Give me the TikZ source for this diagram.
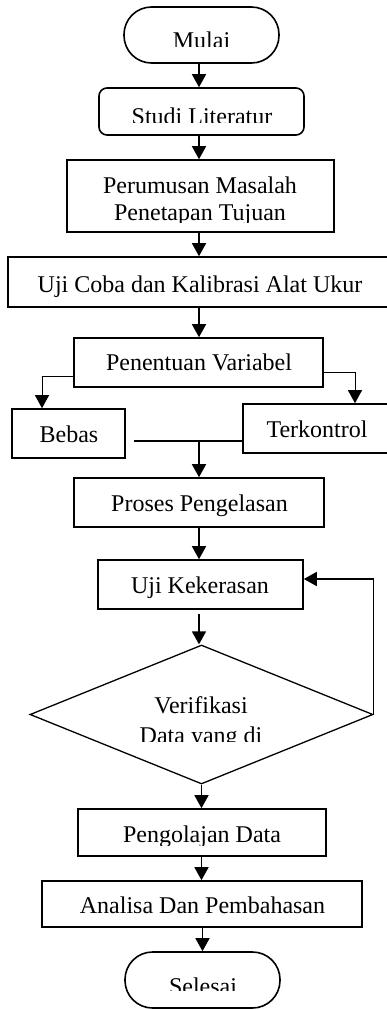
\documentclass[tikz,border=0pt]{standalone}
\usepackage{fontspec}
\setmainfont{Liberation Serif}
\usetikzlibrary{arrows.meta,shapes.geometric,fit}
\begin{document}
\begin{tikzpicture}[x=1pt,y=-1pt,
  box/.style={draw,line width=1.6pt,inner sep=0pt},
  term/.style={box,rounded corners=27.5pt},
  rbox/.style={box,rounded corners=8pt},
  dec/.style={draw,diamond,line width=1.3pt,inner sep=0pt,minimum width=343pt,minimum height=139pt},
  txt/.style={font=\fontsize{24}{27}\selectfont,inner sep=0pt,anchor=base},
  arr/.style={line width=1.6pt,-{Triangle[width=14pt,length=13pt]}},
  tarr/.style={line width=1pt,-{Triangle[width=14pt,length=13pt]}},
  conn/.style={line width=1.6pt}]
\useasboundingbox (0,0) rectangle (386,1010);
\coordinate (axis) at (199,0);
% shapes
\node[term,fit={(124,7)(279,63)}] (mulai) {};
\node[rbox,fit={(99,88)(304,135)}] (studi) {};
\node[box,fit={(67,160)(334,232)}] (rumus) {};
\node[box,fit={(8,257)(392,307)}] (ujicoba) {};
\node[box,fit={(74,338)(323,387)}] (tentu) {};
\node[box,fit={(12,409)(125,458)}] (bebas) {};
\node[box,fit={(243,404)(391,453)}] (kontrol) {};
\node[box,fit={(74,478)(324,527)}] (proses) {};
\node[box,fit={(98,560)(303,609)}] (keras) {};
\node[dec] (verif) at (201.5,714.5) {};
\node[box,fit={(78,809)(326,856)}] (olah) {};
\node[box,fit={(42,881)(362,927)}] (analisa) {};
\node[term,fit={(125,952)(280,1008)}] (selesai) {};
% texts
\begin{scope}
\clip (0,0) rectangle (386,46);
\node[txt] (tmulai) at (201.5,48) {Mulai};
\end{scope}
\begin{scope}
\clip (0,90) rectangle (386,122);
\node[txt] (tstudi) at (202,124.5) {Studi Literatur};
\end{scope}
\node[txt] (trumus1) at (200,193) {Perumusan Masalah};
\begin{scope}
\clip (0,195) rectangle (386,222);
\node[txt] (trumus2) at (200,220) {Penetapan Tujuan};
\end{scope}
\node[txt] (tujicoba) at (200,292) {Uji Coba dan Kalibrasi Alat Ukur};
\node[txt] (ttentu) at (199,370) {Penentuan Variabel};
\node[txt] (tbebas) at (69,442) {Bebas};
\node[txt] (tkontrol) at (317,437) {Terkontrol};
\node[txt] (tproses) at (199.5,511) {Proses Pengelasan};
\node[txt] (tkeras) at (200,593) {Uji Kekerasan};
\node[txt] (tverif1) at (201,713) {Verifikasi};
\begin{scope}
\clip (0,716) rectangle (386,741.5);
\node[txt] (tverif2) at (201,743) {Data yang di};
\end{scope}
\begin{scope}
\clip (0,812) rectangle (386,845);
\node[txt] (tolah) at (202,842) {Pengolajan Data};
\end{scope}
\node[txt] (tanalisa) at (202.5,913) {Analisa Dan Pembahasan};
\begin{scope}
\clip (0,955) rectangle (386,990);
\node[txt] (tselesai) at (203,994) {Selesai};
\end{scope}
% connectors
\draw[arr] (mulai.south -| axis) -- (studi.north -| axis);
\draw[arr] (studi.south -| axis) -- (rumus.north -| axis);
\draw[arr] (rumus.south -| axis) -- (ujicoba.north -| axis);
\draw[arr] (ujicoba.south -| axis) -- (tentu.north -| axis);
\draw[tarr] ([yshift=-13.5pt]tentu.west) -| ([xshift=-26.5pt]bebas.north);
\draw[tarr] ([yshift=-9.5pt]tentu.east) -| ([xshift=38pt]kontrol.north);
\coordinate (join) at (199,441);
\draw[conn,shorten <=8pt] (bebas.east |- join) -- (kontrol.west |- join);
\draw[arr] (join) -- (proses.north -| join);
\draw[arr] (proses.south -| axis) -- (keras.north -| axis);
\draw[arr,shorten <=4pt] (keras.south -| axis) -- (verif.north -| axis);
\draw[arr] (verif.east) |- ([yshift=5.5pt]keras.east);
\draw[arr] (verif.south) -- (olah.north -| verif.south);
\draw[arr] (olah.south -| verif.south) -- (analisa.north -| verif.south);
\draw[arr] (analisa.south -| selesai.north) -- (selesai.north);
\end{tikzpicture}
\end{document}
